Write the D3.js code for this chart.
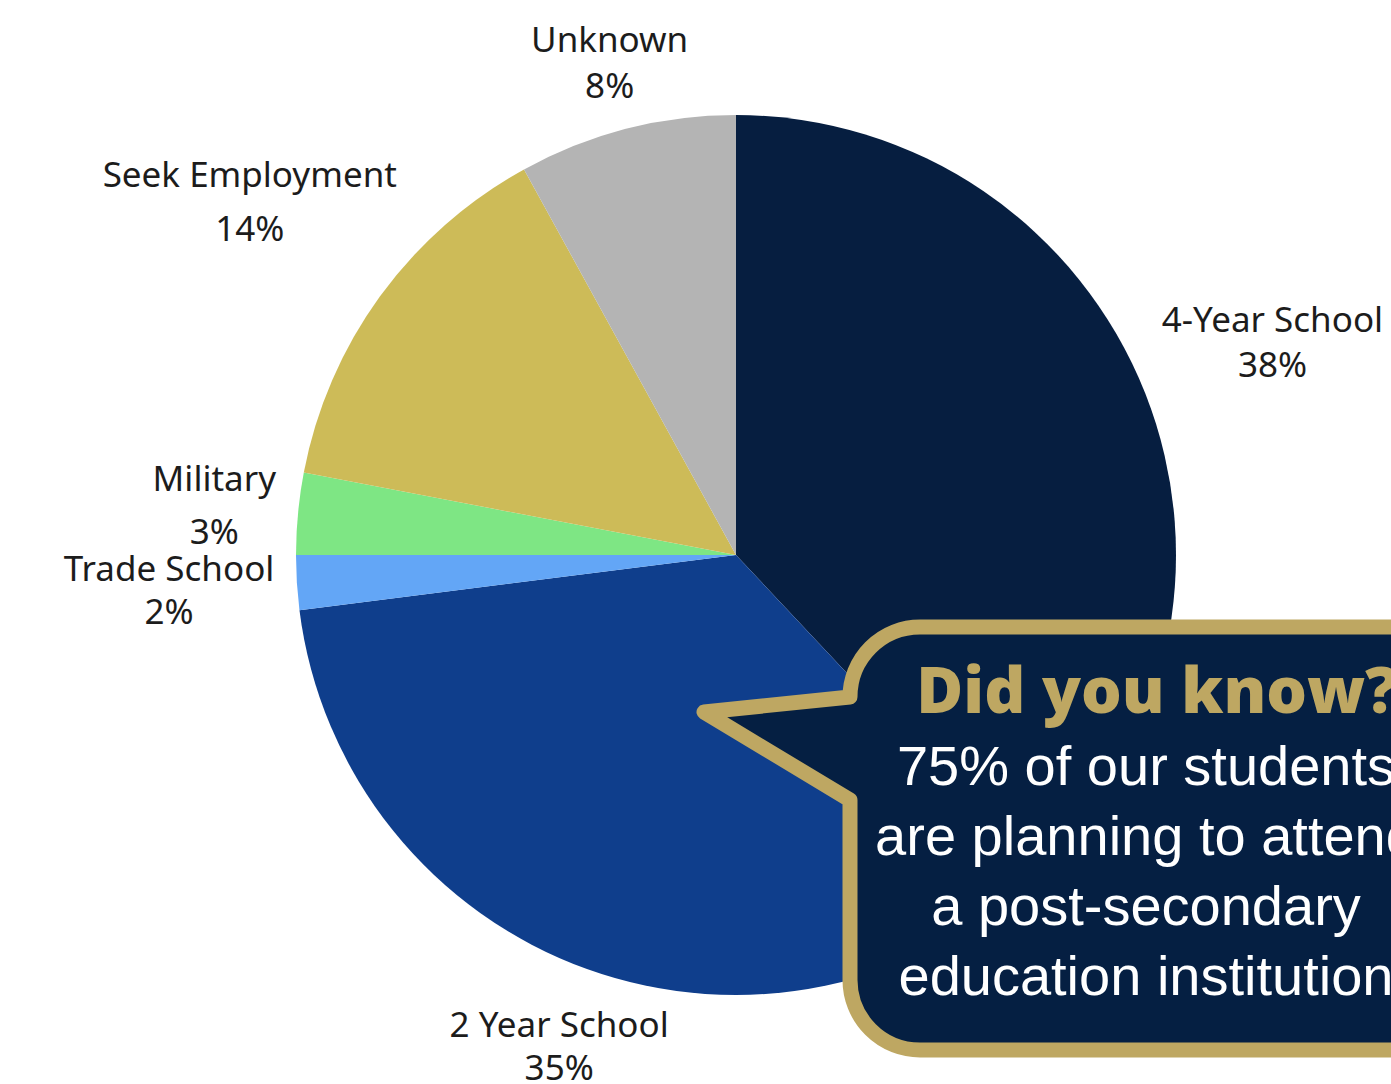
<!DOCTYPE html>
<html>
<head>
<meta charset="utf-8">
<script src="https://cdn.jsdelivr.net/npm/d3@7"></script>
<style>
  body { margin: 0; background: #ffffff; overflow: hidden; }
  svg { display: block; }
</style>
</head>
<body>
<div id="chart"></div>
<script>
// Data, clockwise from 12 o'clock
var categories = ["4-Year School", "2 Year School", "Trade School", "Military", "Seek Employment", "Unknown"];
var percents   = [38, 35, 2, 3, 14, 8];
var colors     = ["#061e40", "#0f3e8c", "#63a6f6", "#7ee684", "#cdbb58", "#b4b4b4"];

var calloutTitle = "Did you know?";
var calloutLines = ["75% of our students", "are planning to attend", "a post-secondary", "education institution"];

// label placement (radius from centre, line gap) per slice
var labelLayout = {
  "4-Year School":   {r: 577, gap: 45},
  "2 Year School":   {r: 522, gap: 43},
  "Trade School":    {r: 568, gap: 43},
  "Military":        {r: 524, gap: 53},
  "Seek Employment": {r: 601, gap: 54},
  "Unknown":         {r: 508, gap: 46}
};

var width = 1391, height = 1084;
var cx = 736, cy = 555, radius = 440;

var svg = d3.select("#chart").append("svg")
    .attr("width", width)
    .attr("height", height);

var data = categories.map(function(c, i) {
  return {name: c, value: percents[i], color: colors[i]};
});

var pie = d3.pie()
    .sort(null)
    .value(function(d) { return d.value; });

var arc = d3.arc().innerRadius(0).outerRadius(radius);

var g = svg.append("g")
    .attr("transform", "translate(" + cx + "," + cy + ")");

var arcs = pie(data);

g.selectAll("path.slice")
    .data(arcs)
  .enter().append("path")
    .attr("class", "slice")
    .attr("d", arc)
    .attr("fill", function(d) { return d.data.color; });

// labels
var lbl = g.selectAll("g.label")
    .data(arcs)
  .enter().append("g")
    .attr("class", "label")
    .attr("transform", function(d) {
      var r = labelLayout[d.data.name].r;
      var c = d3.arc().innerRadius(r).outerRadius(r).centroid(d);
      return "translate(" + c[0] + "," + c[1] + ")";
    });

lbl.append("text")
    .attr("text-anchor", "middle")
    .attr("y", function(d) { return -labelLayout[d.data.name].gap / 2 + 12; })
    .text(function(d) { return d.data.name; });

lbl.append("text")
    .attr("text-anchor", "middle")
    .attr("y", function(d) { return labelLayout[d.data.name].gap / 2 + 12; })
    .text(function(d) { return d.data.value + "%"; });

lbl.selectAll("text")
    .attr("font-family", "'Noto Sans', sans-serif")
    .attr("font-size", 35)
    .attr("fill", "#1c1c1c");

// callout bubble
var bx0 = 850, by0 = 627, by1 = 1050, bx1 = 1460, cr = 70;
var tailTip = [704, 712], tailTop = 697, tailBottom = 800;

var p = d3.path();
p.moveTo(bx0, tailTop);
p.lineTo(bx0, by0 + cr);
p.arcTo(bx0, by0, bx0 + cr, by0, cr);
p.lineTo(bx1, by0);
p.lineTo(bx1, by1);
p.lineTo(bx0 + cr, by1);
p.arcTo(bx0, by1, bx0, by1 - cr, cr);
p.lineTo(bx0, tailBottom);
p.lineTo(tailTip[0], tailTip[1]);
p.closePath();

svg.append("path")
    .attr("d", p.toString())
    .attr("fill", "#051f42")
    .attr("stroke", "#bea762")
    .attr("stroke-width", 15)
    .attr("stroke-linejoin", "round");

svg.append("text")
    .attr("x", 1157)
    .attr("y", 713)
    .attr("text-anchor", "middle")
    .attr("font-family", "'Open Sans', sans-serif")
    .attr("font-weight", 800)
    .attr("font-size", 64)
    .attr("fill", "#bea762")
    .text(calloutTitle);

svg.selectAll("text.body")
    .data(calloutLines)
  .enter().append("text")
    .attr("class", "body")
    .attr("x", 1146)
    .attr("y", function(d, i) { return 785 + i * 70; })
    .attr("text-anchor", "middle")
    .attr("font-family", "'Liberation Sans', Arial, sans-serif")
    .attr("font-size", 56)
    .attr("fill", "#ffffff")
    .text(function(d) { return d; });
</script>
</body>
</html>
